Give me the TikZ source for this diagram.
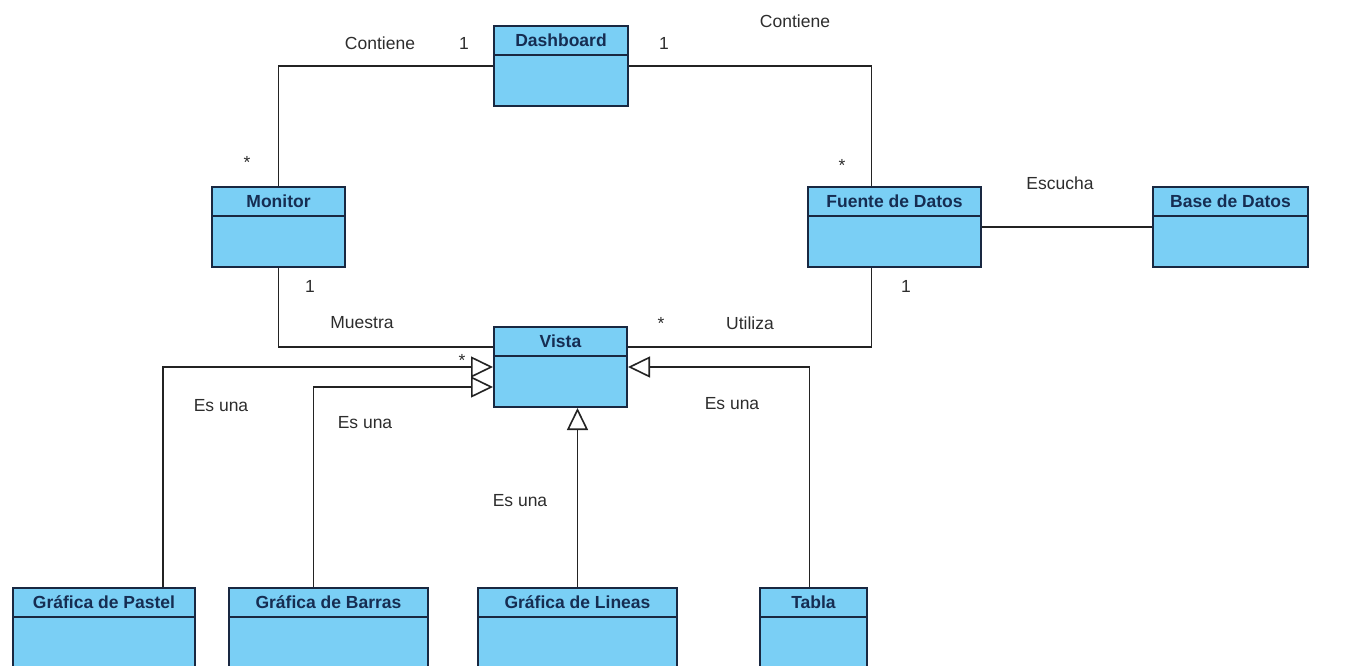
\documentclass[tikz,border=0pt]{standalone}
\usepackage{fontspec}
\setmainfont{Liberation Sans}
\usepackage{tikz}
\usetikzlibrary{arrows.meta}
\definecolor{relleno}{RGB}{122,207,245}
\definecolor{borde}{RGB}{25,40,65}
\definecolor{tinta}{RGB}{22,45,82}
\definecolor{linea}{RGB}{35,35,35}
\definecolor{rotulo}{RGB}{45,45,45}
\newcommand{\clase}[4]{%
  \node[clase, minimum width=#3, anchor=north west] (#1) at #2 {};
  \node[titulo] at ([yshift=-15pt]#1.north) {#4};
  \draw[borde, line width=2pt] ([yshift=-30pt]#1.north west) -- ([yshift=-30pt]#1.north east);
}

\begin{document}
\begin{tikzpicture}[x=1pt, y=-1pt,
    clase/.style={draw=borde, line width=2pt, fill=relleno, minimum height=80pt, inner sep=0pt},
    titulo/.style={text=tinta, font=\fontsize{17.5}{20}\selectfont\bfseries, inner sep=0pt},
    rel/.style={draw=linea, line width=1.8pt},
    hereda/.style={rel, -{Triangle[open, length=22pt, width=21pt, line width=1.6pt]}},
    txt/.style={text=rotulo, font=\fontsize{17.5}{20}\selectfont, inner sep=0pt}]
            \useasboundingbox (0,0) rectangle (1345,665);
            \clip (0,0) rectangle (1345,665);
            \clase{dash}{(493,25)}{134pt}{Dashboard}
            \clase{monitor}{(211,186)}{133pt}{Monitor}
            \clase{fuente}{(807,186)}{173pt}{Fuente de Datos}
            \clase{base}{(1152,186)}{155pt}{Base de Datos}
            \clase{vista}{(493,326)}{133pt}{Vista}
            \clase{pastel}{(12,587)}{182pt}{Gráfica de Pastel}
            \clase{barras}{(228,587)}{199pt}{Gráfica de Barras}
            \clase{lineas}{(477,587)}{199pt}{Gráfica de Lineas}
            \clase{tabla}{(759,587)}{107pt}{Tabla}
            \draw[rel] (dash.west) -| (monitor.north);
            \draw[rel] (dash.east) -| ([xshift=-23pt]fuente.north);
            \draw[rel] (monitor.south) |- ([yshift=20pt]vista.west);
            \draw[rel] ([xshift=-23pt]fuente.south) |- ([yshift=20pt]vista.east);
            \draw[rel] (fuente) -- (base);
            \draw[hereda] ([xshift=59pt]pastel.north) |- (vista.west);
            \draw[hereda] ([xshift=-15pt]barras.north) |- ([yshift=-20pt]vista.west);
            \draw[hereda] (lineas.north) -- (lineas.north |- vista.south);
            \draw[hereda] ([xshift=-4pt]tabla.north) |- (vista.east);
            \node[txt] (l1) at (380,43) {Contiene};
            \node[txt] (l2) at (464,43) {1};
            \node[txt] (l3) at (664,43) {1};
            \node[txt] (l4) at (795,21) {Contiene};
            \node[txt] (l5) at (247,162) {*};
            \node[txt] (l6) at (842,165) {*};
            \node[txt] (l7) at (310,286) {1};
            \node[txt] (l8) at (906,286) {1};
            \node[txt] (l9) at (362,323) {Muestra};
            \node[txt] (l10) at (661,323) {*};
            \node[txt] (l11) at (750,323) {Utiliza};
            \node[txt] (l12) at (462,360) {*};
            \node[txt] (l13) at (1060,183) {Escucha};
            \node[txt] (l14) at (221,406) {Es una};
            \node[txt] (l15) at (365,423) {Es una};
            \node[txt] (l16) at (732,404) {Es una};
            \node[txt] (l17) at (520,501) {Es una};
        \end{tikzpicture}
\end{document}
